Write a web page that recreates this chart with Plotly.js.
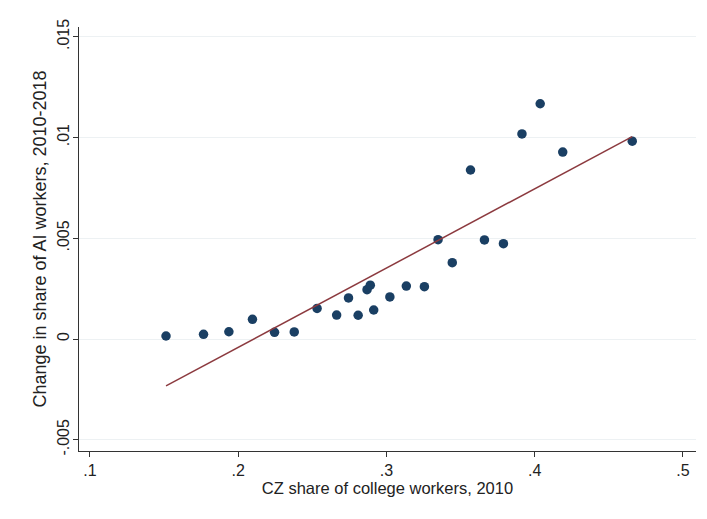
<!DOCTYPE html>
<html>
<head>
<meta charset="utf-8">
<script src="https://cdn.plot.ly/plotly-3.0.1.min.js"></script>
<style>html,body{margin:0;padding:0;background:#fff;}#chart{width:707px;height:519px;}</style>
</head>
<body>
<div id="chart"></div>
<script>
// Binned scatter: CZ share of college workers (2010) vs change in share of AI workers
const collegeShare = [0.1513, 0.1766, 0.1937, 0.2096, 0.2245, 0.2378, 0.2532, 0.2664, 0.2744, 0.2809, 0.2869, 0.2891, 0.2914, 0.3023, 0.3134, 0.3256, 0.3348, 0.3444, 0.3567, 0.3661, 0.3789, 0.3914, 0.4037, 0.4189, 0.4658];
const aiChange = [0.00015, 0.00023, 0.00036, 0.00098, 0.00033, 0.00035, 0.00152, 0.00119, 0.00204, 0.00118, 0.00245, 0.00267, 0.00144, 0.00209, 0.00263, 0.00260, 0.00493, 0.00379, 0.00839, 0.00492, 0.00473, 0.01018, 0.01168, 0.00928, 0.00982];
// Fitted line endpoints
const fitX = [0.1513, 0.4658];
const fitY = [-0.00233, 0.01005];

const xTickVals = [0.1, 0.2, 0.3, 0.4, 0.5];
const xTickText = [".1", ".2", ".3", ".4", ".5"];
const yTickVals = [-0.005, 0, 0.005, 0.01, 0.015];
const yTickText = ["-.005", "0", ".005", ".01", ".015"];

const traces = [
  {
    x: collegeShare, y: aiChange, type: 'scatter', mode: 'markers',
    marker: {color: '#1a3f63', size: 9.5}, hoverinfo: 'x+y', showlegend: false
  },
  {
    x: fitX, y: fitY, type: 'scatter', mode: 'lines',
    line: {color: '#8c3a3f', width: 1.5}, showlegend: false
  }
];

const fam = '"Liberation Sans", Arial, sans-serif';
const layout = {
  width: 707, height: 519,
  margin: {l: 79, r: 11, t: 27, b: 68},
  paper_bgcolor: '#ffffff', plot_bgcolor: '#ffffff',
  font: {family: fam, color: '#222'},
  xaxis: {
    range: [0.0926, 0.5088],
    tickvals: xTickVals, ticktext: xTickText,
    ticks: 'outside', ticklen: 5, tickcolor: '#333', tickwidth: 1,
    showline: true, linecolor: '#333', linewidth: 1.2,
    showgrid: false, zeroline: false,
    tickfont: {size: 16, family: fam, color: '#222'},
    title: {text: 'CZ share of college workers, 2010', font: {size: 16.5, family: fam, color: '#222'}, standoff: 2}
  },
  yaxis: {
    range: [-0.00556, 0.01549],
    tickvals: yTickVals, ticktext: yTickText,
    tickangle: -90,
    ticklabelstandoff: -3,
    ticks: 'outside', ticklen: 5, tickcolor: '#333', tickwidth: 1,
    showline: true, linecolor: '#333', linewidth: 1.2,
    showgrid: true, gridcolor: '#edf1f3', gridwidth: 1,
    zeroline: false,
    tickfont: {size: 16, family: fam, color: '#222'},
    title: {text: 'Change in share of AI workers, 2010-2018', font: {size: 18, family: fam, color: '#222'}, standoff: 4}
  }
};

Plotly.newPlot('chart', traces, layout, {displayModeBar: false, staticPlot: true});
</script>
</body>
</html>
